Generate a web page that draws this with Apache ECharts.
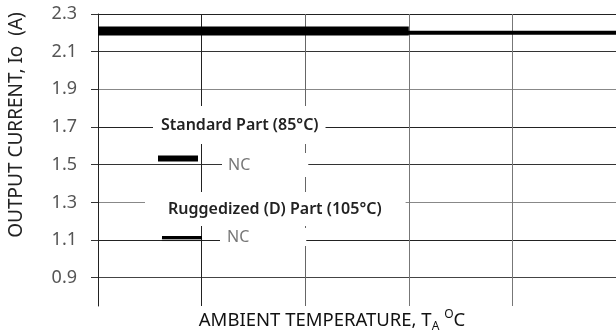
<!DOCTYPE html>
<html>
<head>
<meta charset="utf-8">
<script src="https://cdn.jsdelivr.net/npm/echarts@6/dist/echarts.min.js"></script>
<style>html,body{margin:0;padding:0;background:#fff}#c{width:616px;height:336px}</style>
</head>
<body>
<div id="c"></div>
<script>
// x positions (grid columns, unlabeled) and series values
const xSteps = [0, 1, 2, 3, 4, 5];
const standardX = [0, 3];
const standardY = [2.21, 2.21];
const ruggedX = [0, 5];
const ruggedY = [2.2, 2.2];
const yTicks = [0.9, 1.1, 1.3, 1.5, 1.7, 1.9, 2.1, 2.3];
const seriesNames = ['Standard Part (85°C)', 'Ruggedized (D) Part (105°C)'];
const ncLabel = 'NC';
const yTitle = 'OUTPUT CURRENT, Io  (A)';

const chart = echarts.init(document.getElementById('c'), null, {renderer: 'canvas'});
const F = '"Noto Sans", sans-serif';
chart.setOption({
  animation: false,
  backgroundColor: '#fff',
  grid: {left: 98, right: 0, top: 14, bottom: 30, containLabel: false},
  xAxis: {
    type: 'value', min: xSteps[0], max: xSteps[xSteps.length - 1], interval: 1,
    axisLine: {show: false}, axisTick: {show: false}, axisLabel: {show: false},
    splitLine: {show: true, lineStyle: {width: 1, color: ['#222', '#222', '#666', '#777', '#777', '#777']}}
  },
  yAxis: {
    type: 'value', min: 0.75, max: 2.3,
    axisLine: {show: true, lineStyle: {color: '#222', width: 1}},
    axisTick: {show: true, inside: false, length: 7, customValues: yTicks, lineStyle: {color: '#333'}},
    axisLabel: {customValues: yTicks, margin: 21, color: '#555', fontSize: 18, fontFamily: F,
      formatter: v => v.toFixed(1)},
    splitLine: {show: true, lineStyle: {width: 1, color: ['#444', '#222', '#888', '#333', '#222', '#888', '#333', '#222']}}
  },
  legend: [
    {data: [seriesNames[0]], left: 158, top: 155.5, padding: 0, icon: 'rect', itemWidth: 40, itemHeight: 6,
      formatter: () => '', textStyle: {fontSize: 1, lineHeight: 1}, selectedMode: false},
    {data: [seriesNames[1]], left: 162, top: 236, padding: 0, icon: 'rect', itemWidth: 40, itemHeight: 3,
      formatter: () => '', textStyle: {fontSize: 1, lineHeight: 1}, selectedMode: false,
      itemStyle: {shadowColor: 'rgba(0,0,0,0.35)', shadowOffsetY: 2, shadowBlur: 1}}
  ],
  series: [
    {name: seriesNames[0], type: 'line', symbol: 'none', z: 3, color: '#000',
      lineStyle: {color: '#000', width: 9, cap: 'butt'},
      data: standardX.map((x, i) => [x, standardY[i]])},
    {name: seriesNames[1], type: 'line', symbol: 'none', z: 4, color: '#000',
      lineStyle: {color: '#000', width: 4, cap: 'butt'},
      data: ruggedX.map((x, i) => [x, ruggedY[i]])}
  ],
  graphic: [
    {type: 'text', z: 50, x: 153, y: 125, style: {text: seriesNames[0], fill: '#222',
      font: '600 16px ' + F, backgroundColor: '#fff', padding: [8, 7, 14, 8], align: 'left', verticalAlign: 'middle'}},
    {type: 'text', z: 50, x: 222, y: 165, style: {text: ncLabel, fill: '#777',
      font: '16px ' + F, backgroundColor: '#fff', padding: [4, 58, 4, 6], align: 'left', verticalAlign: 'middle'}},
    {type: 'text', z: 50, x: 145, y: 209, style: {text: seriesNames[1], fill: '#222',
      font: '600 16px ' + F, backgroundColor: '#fff', padding: [9, 24, 9, 23], align: 'left', verticalAlign: 'middle'}},
    {type: 'text', z: 50, x: 220, y: 237, style: {text: ncLabel, fill: '#777',
      font: '16px ' + F, backgroundColor: '#fff', padding: [1, 57, 1, 7], align: 'left', verticalAlign: 'middle'}},
    {type: 'text', z: 50, x: 17, y: 125, rotation: Math.PI / 2, style: {text: yTitle, fill: '#222',
      font: '19px ' + F, align: 'center', verticalAlign: 'middle'}},
    {type: 'text', z: 50, x: 332, y: 321, style: {
      text: '{m|AMBIENT TEMPERATURE, T}{s|A}{m| }{p|O}{m|C}', align: 'center', verticalAlign: 'middle',
      rich: {
        m: {fill: '#111', font: '18.5px ' + F, lineHeight: 24},
        s: {fill: '#111', font: '12px ' + F, lineHeight: 12, verticalAlign: 'bottom'},
        p: {fill: '#111', font: '12px ' + F, lineHeight: 12, verticalAlign: 'top'}
      }}}
  ]
});
</script>
</body>
</html>
